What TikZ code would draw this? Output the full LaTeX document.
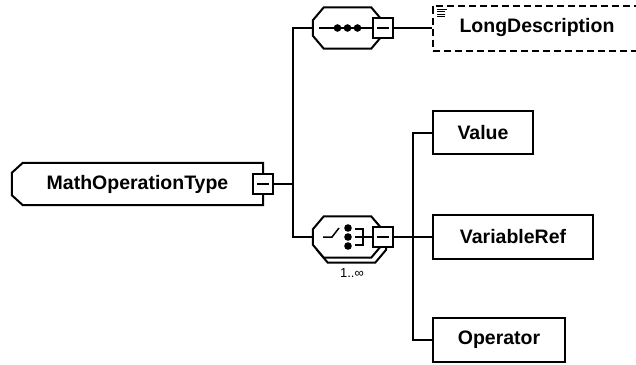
\documentclass[tikz,border=0pt]{standalone}
\usepackage{fontspec}
\setmainfont{Liberation Sans}
\usetikzlibrary{calc}
\tikzset{
  >=latex,
}
\tikzstyle{every node}=[font=\fontsize{19.5}{22}\selectfont\bfseries]
\tikzstyle{link}=[line width=2pt]
\tikzstyle{icon}=[line width=1.5pt]
\tikzstyle{slot}=[inner sep=0pt,minimum height=42pt]
\tikzstyle{elem}=[draw,line width=2pt,inner sep=0pt,minimum height=44pt]
\tikzstyle{minus}=[draw,fill=white,line width=2pt,inner sep=0pt,minimum width=20pt,minimum height=20pt,
  path picture={\draw[icon] ([xshift=-6pt]path picture bounding box.center) -- ([xshift=6pt]path picture bounding box.center);}]

\begin{document}
\begin{tikzpicture}[x=1pt,y=-1pt]
        \useasboundingbox (0,0) rectangle (636,364);
        \node[slot,minimum width=251pt] (mot) at (137.5,184) {MathOperationType};
        \draw[link] ($(mot.north west)+(11,0)$) -- (mot.north east) -- (mot.south east) -- ($(mot.south west)+(11,0)$)
          -- ($(mot.south west)+(0,-10)$) -- ($(mot.north west)+(0,10)$) -- cycle;
        \node[minus] (motm) at (263,184) {};
        \coordinate (j1) at (293,184);
        \node[slot,minimum width=69pt,minimum height=41pt] (seq) at (347.5,28) {};
        \draw[link,fill=white] ($(seq.north west)+(11,0)$) -- ($(seq.north east)+(-11,0)$) -- ($(seq.north east)+(0,13)$)
          -- ($(seq.south east)+(0,-13)$) -- ($(seq.south east)+(-11,0)$) -- ($(seq.south west)+(11,0)$)
          -- ($(seq.south west)+(0,-13)$) -- ($(seq.north west)+(0,13)$) -- cycle;
        \node[minus] (seqm) at (383,28) {};
        \draw[icon] ($(seq.west)+(6,0)$) -- (seqm.west);
        \foreach \i in {-10,0,10} \fill ($(seq.center)+(\i,0)$) circle (3.8pt);
        \node[slot,minimum width=69pt,minimum height=41pt] (chosh) at (351.5,242) {};
        \draw[link,fill=white] ($(chosh.north west)+(11,0)$) -- ($(chosh.north east)+(-11,0)$) -- ($(chosh.north east)+(0,13)$)
          -- ($(chosh.south east)+(0,-13)$) -- ($(chosh.south east)+(-11,0)$) -- ($(chosh.south west)+(11,0)$)
          -- ($(chosh.south west)+(0,-13)$) -- ($(chosh.north west)+(0,13)$) -- cycle;
        \node[slot,minimum width=69pt,minimum height=41pt] (cho) at (347.5,237) {};
        \draw[link,fill=white] ($(cho.north west)+(11,0)$) -- ($(cho.north east)+(-11,0)$) -- ($(cho.north east)+(0,13)$)
          -- ($(cho.south east)+(0,-13)$) -- ($(cho.south east)+(-11,0)$) -- ($(cho.south west)+(11,0)$)
          -- ($(cho.south west)+(0,-13)$) -- ($(cho.north west)+(0,13)$) -- cycle;
        \node[minus] (chom) at (383,237) {};
        \draw[icon] (323,237) -- (332,237) -- (339,228);
        \foreach \i in {-9,0,9} \fill (348,237+\i) circle (3.8pt);
        \draw[icon] (355,229) -- (363,229) -- (363,245) -- (355,245);
        \draw[icon] (355,237) -- (chom.west);
        \node[font=\fontsize{13}{15}\selectfont] (mult) at (352,273) {1..∞};
        \node[elem,dash pattern=on 7pt off 4pt,minimum width=208pt,minimum height=45pt] (ld) at (537,28) {LongDescription};
        \foreach \y/\l in {9/10,11.5/8,14/8,16.5/8} \draw[line width=0.9pt] (437,\y) -- ++(\l,0);
        \coordinate (j2) at (413,237);
        \node[elem,minimum width=100pt,minimum height=43pt] (val) at (483,132.5) {Value};
        \node[elem,minimum width=160pt] (var) at (513,237) {VariableRef};
        \node[elem,minimum width=132pt] (op) at (499,340) {Operator};
        \draw[link] (motm) -- (j1);
        \draw[link] (j1) |- (seq.west);
        \draw[link] (j1) |- (cho.west);
        \draw[link] (seqm) -- (ld);
        \draw[link] (chom) -- (j2);
        \draw[link] (j2) |- (val.west);
        \draw[link] (j2) |- (var.west);
        \draw[link] (j2) |- (op.west);
      \end{tikzpicture}
\end{document}
